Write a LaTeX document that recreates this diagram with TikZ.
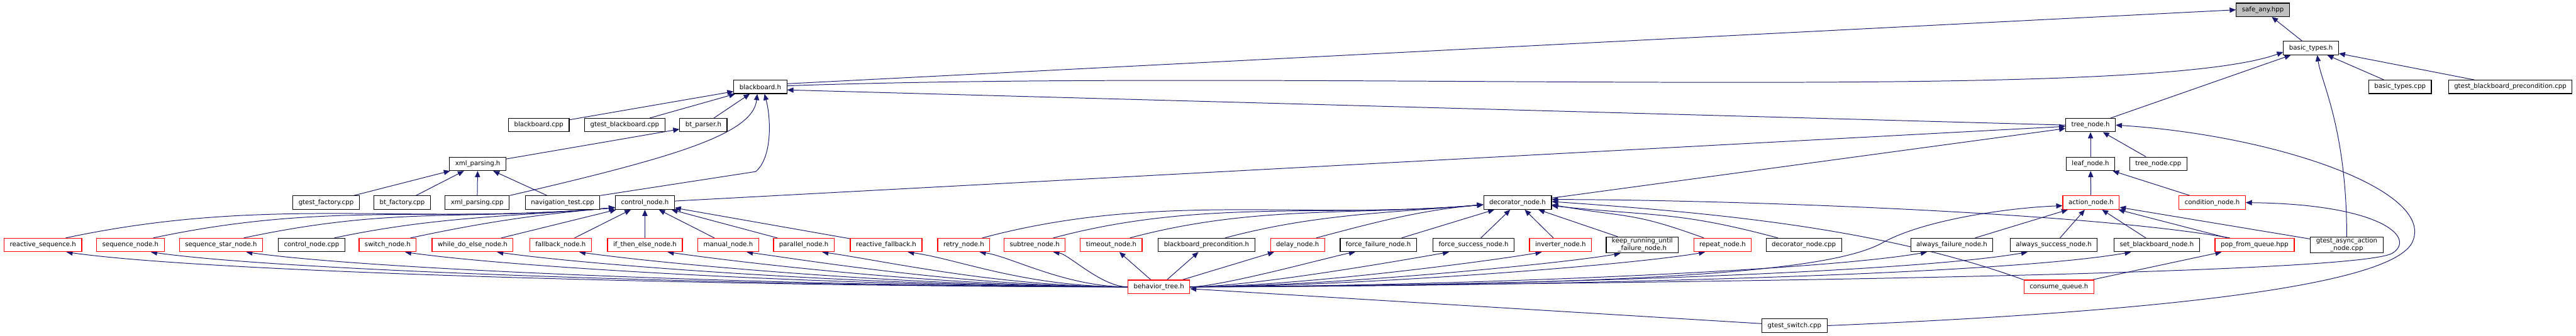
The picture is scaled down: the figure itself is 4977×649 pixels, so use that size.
\documentclass[tikz,border=0pt]{standalone}
\usepackage{fontspec}
\setmainfont{DejaVu Sans}
\usepackage{tikz}
\usetikzlibrary{arrows.meta,calc,backgrounds}
\definecolor{edgeblue}{HTML}{191970}
\definecolor{boxred}{HTML}{FF0000}
\definecolor{rootgrey}{HTML}{BFBFBF}

\begin{document}
\begin{tikzpicture}[x=0.5pt, y=0.5pt,
    file/.style={draw=black, line width=0.7pt, fill=white, font=\fontsize{6.2}{7.3}\selectfont,
        inner xsep=5.5pt, inner ysep=1pt, minimum height=13pt, align=center},
    more/.style={file, draw=boxred},
    root/.style={file, fill=rootgrey},
    inc/.style={draw=edgeblue, line width=0.6pt, -{Triangle[length=6pt,width=5pt]}}]
    \useasboundingbox (0,0) rectangle (4977,-649);

    \node[root] (safeany) at (4372,-19) {safe\_any.hpp};
    \node[file] (basictypes) at (4465,-93) {basic\_types.h};

    \node[file] (blackboard) at (1469,-168) {blackboard.h};
    \node[file] (basictypescpp) at (4637,-168) {basic\_types.cpp};
    \node[file] (gtestbbprecond) at (4850,-168) {gtest\_blackboard\_precondition.cpp};

    \node[file] (bbcpp) at (1041,-242) {blackboard.cpp};
    \node[file] (gtestbb) at (1207,-242) {gtest\_blackboard.cpp};
    \node[file] (btparser) at (1359,-242) {bt\_parser.h};
    \node[file] (treenode) at (4039,-242) {tree\_node.h};

    \node[file] (xmlparsing) at (923,-317) {xml\_parsing.h};
    \node[file] (leafnode) at (4039,-317) {leaf\_node.h};
    \node[file] (treenodecpp) at (4170,-317) {tree\_node.cpp};

    \node[file] (gtestfactory) at (630,-392) {gtest\_factory.cpp};
    \node[file] (btfactory) at (777,-392) {bt\_factory.cpp};
    \node[file] (xmlparsingcpp) at (922,-392) {xml\_parsing.cpp};
    \node[file] (navtest) at (1087,-392) {navigation\_test.cpp};
    \node[file] (controlnode) at (1246,-392) {control\_node.h};
    \node[file] (decoratornode) at (2932,-392) {decorator\_node.h};
    \node[more] (actionnode) at (4040,-392) {action\_node.h};
    \node[more] (conditionnode) at (4274,-392) {condition\_node.h};

    \node[more] (reactiveseq) at (83,-474) {reactive\_sequence.h};
    \node[more] (seqnode) at (252,-474) {sequence\_node.h};
    \node[more] (seqstar) at (427,-474) {sequence\_star\_node.h};
    \node[file] (controlnodecpp) at (602,-474) {control\_node.cpp};
    \node[more] (switchnode) at (749,-474) {switch\_node.h};
    \node[more] (whiledo) at (913,-474) {while\_do\_else\_node.h};
    \node[more] (fallback) at (1083,-474) {fallback\_node.h};
    \node[more] (ifthen) at (1246,-474) {if\_then\_else\_node.h};
    \node[more] (manual) at (1407,-474) {manual\_node.h};
    \node[more] (parallel) at (1553,-474) {parallel\_node.h};
    \node[more] (reactivefb) at (1712,-474) {reactive\_fallback.h};
    \node[more] (retry) at (1862,-474) {retry\_node.h};
    \node[more] (subtree) at (1999,-474) {subtree\_node.h};
    \node[more] (timeout) at (2147,-474) {timeout\_node.h};
    \node[file] (bbprecond) at (2331,-474) {blackboard\_precondition.h};
    \node[more] (delay) at (2507,-474) {delay\_node.h};
    \node[file] (forcefail) at (2663,-474) {force\_failure\_node.h};
    \node[file] (forcesucc) at (2847,-474) {force\_success\_node.h};
    \node[more] (inverter) at (3015,-474) {inverter\_node.h};
    \node[file] (keeprunning) at (3173,-474) {keep\_running\_until\\\_failure\_node.h};
    \node[more] (repeat) at (3328,-474) {repeat\_node.h};
    \node[file] (decoratorcpp) at (3485,-474) {decorator\_node.cpp};
    \node[file] (alwaysfail) at (3771,-474) {always\_failure\_node.h};
    \node[file] (alwayssucc) at (3968,-474) {always\_success\_node.h};
    \node[file] (setbb) at (4167,-474) {set\_blackboard\_node.h};
    \node[more] (popqueue) at (4356,-474) {pop\_from\_queue.hpp};
    \node[file] (gtestasync) at (4534,-474) {gtest\_async\_action\\\_node.cpp};

    \node[more] (behaviortree) at (2239,-555) {behavior\_tree.h};
    \node[more] (consumequeue) at (3978,-555) {consume\_queue.h};
    \node[file] (gtestswitch) at (3467,-630) {gtest\_switch.cpp};

    \begin{scope}[on background layer]
        % top of the graph
        \draw[inc] (basictypes) -- (safeany);
        \draw[inc] ([yshift=3pt]blackboard.east) -- (safeany.west);
        \draw[inc] ([yshift=1pt]blackboard.east) .. controls +(2:1000) and +(200:300) .. ([yshift=3pt]basictypes.south west);
        \draw[inc] (treenode) -- (basictypes);
        \draw[inc] (basictypescpp) -- (basictypes);
        \draw[inc] (gtestbbprecond) -- (basictypes);
        \draw[inc] (gtestasync.north) .. controls (4534,-250) and (4485,-160) .. ([xshift=6pt]basictypes.south);

        \draw[inc] (treenode.west) -- ([yshift=-3pt]blackboard.east);
        \draw[inc] (bbcpp) -- (blackboard);
        \draw[inc] (gtestbb) -- (blackboard);
        \draw[inc] (btparser) -- (blackboard);
        \draw[inc] (xmlparsingcpp.north east) .. controls (1300,-305) and (1455,-260) .. ([xshift=-3pt]blackboard.south);
        \draw[inc] (navtest.north east) -- (1460,-332) .. controls (1492,-305) and (1490,-230) .. ([xshift=4pt]blackboard.south);

        \draw[inc] (xmlparsing) -- (btparser);
        \foreach \s in {gtestfactory, btfactory, xmlparsingcpp, navtest}
            \draw[inc] (\s) -- (xmlparsing);

        \draw[inc] (controlnode) -- (treenode);
        \draw[inc] (decoratornode) -- (treenode);
        \draw[inc] (leafnode) -- (treenode);
        \draw[inc] (treenodecpp) -- (treenode);
        \draw[inc] (gtestswitch.east) .. controls (4250,-600) and (4620,-545) .. (4660,-470)
            .. controls (4710,-370) and (4400,-262) .. (treenode.east);

        \draw[inc] (actionnode) -- (leafnode);
        \draw[inc] (conditionnode) -- (leafnode);
        \foreach \s in {alwaysfail, alwayssucc, setbb, popqueue, gtestasync}
            \draw[inc] (\s) -- (actionnode);

        % control nodes
        \foreach \s/\l in {reactiveseq/400, seqnode/350, seqstar/300, controlnodecpp/200, switchnode/150}
            \draw[inc] ([xshift=22pt]\s.north) .. controls +(12:\l) and +(185:\l) .. ([yshift=2pt]controlnode.south west);
        \foreach \s in {whiledo, fallback, ifthen, manual, parallel, reactivefb}
            \draw[inc] (\s) -- (controlnode);

        % decorator nodes
        \foreach \s/\l in {retry/350, subtree/300, timeout/250, bbprecond/180, delay/120}
            \draw[inc] ([xshift=18pt]\s.north) .. controls +(15:\l) and +(185:\l) .. ([yshift=-2pt]decoratornode.west);
        \foreach \s in {forcefail, forcesucc, inverter, keeprunning}
            \draw[inc] (\s) -- (decoratornode);
        \draw[inc] ([xshift=-18pt]repeat.north) .. controls +(160:150) and +(-10:150) .. ([yshift=-2pt]decoratornode.east);
        \draw[inc] ([xshift=-25pt]decoratorcpp.north) .. controls +(165:200) and +(-6:200) .. ([yshift=-3pt]decoratornode.east);
        \draw[inc] (consumequeue.north west) .. controls +(160:300) and +(-4:300) .. ([yshift=1pt]decoratornode.east);
        \draw[inc] ([xshift=-24pt]popqueue.north) .. controls +(170:300) and +(0:300) .. ([yshift=3pt]decoratornode.east);
        \draw[inc] (consumequeue) -- (popqueue);

        % behavior_tree.h
        \foreach \t/\a/\b in {reactiveseq/700/300, seqnode/650/280, seqstar/600/260, switchnode/520/230,
                whiledo/460/200, fallback/400/180, ifthen/350/160, manual/300/140, parallel/250/120,
                reactivefb/200/100, retry/120/60, subtree/50/30}
            \draw[inc] (behaviortree.west) .. controls +(180:\a) and +(-8:\b) .. ($(\t.south)!0.6!(\t.south east)$);
        \foreach \t in {timeout, bbprecond, delay}
            \draw[inc] (behaviortree) -- (\t);
        \foreach \t/\a/\b in {forcefail/60/40, forcesucc/120/80, inverter/200/100, keeprunning/250/120,
                repeat/300/150, alwaysfail/450/220, alwayssucc/500/250, setbb/550/280}
            \draw[inc] (behaviortree.east) .. controls +(0:\a) and +(190:\b) .. ($(\t.south)!0.6!(\t.south west)$);
        \draw[inc] (behaviortree.east) .. controls (3300,-552) and (3560,-515) .. (3640,-468)
            .. controls (3720,-425) and (3880,-402) .. ([yshift=-3pt]actionnode.west);
        \draw[inc] (behaviortree.east) .. controls (3600,-545) and (4560,-525) .. (4622,-490)
            .. controls (4670,-460) and (4600,-395) .. (conditionnode.east);
        \draw[inc] (gtestswitch) -- (behaviortree);
    \end{scope}
\end{tikzpicture}
\end{document}
